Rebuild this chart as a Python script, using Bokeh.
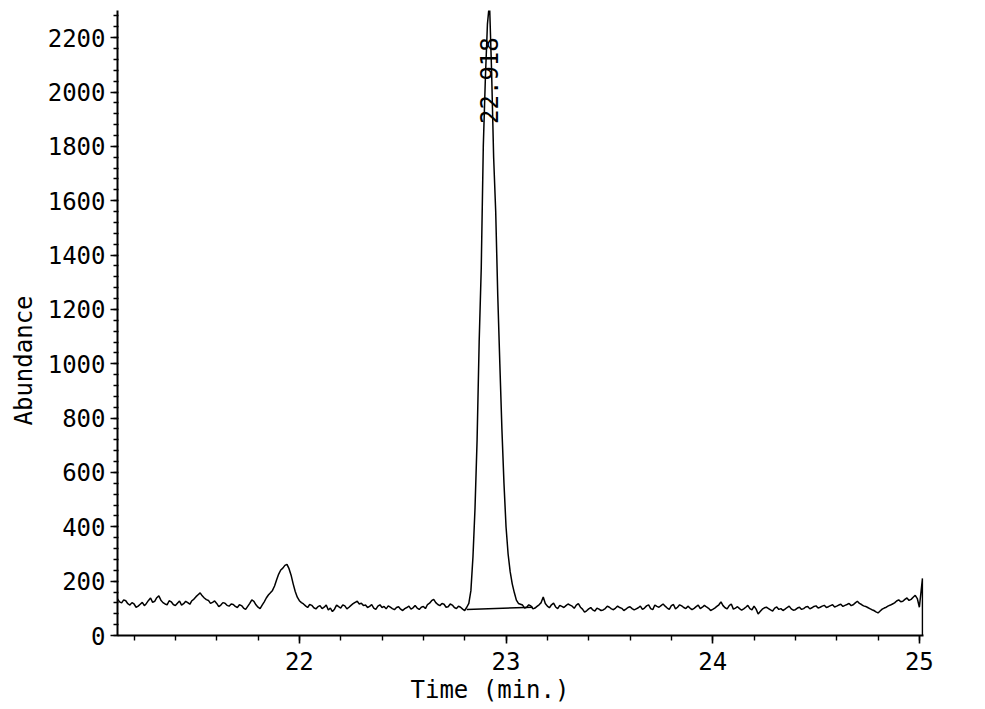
import math
from bokeh.plotting import figure
from bokeh.models import Range1d, FixedTicker, ColumnDataSource, Title
from bokeh.core.properties import value
from bokeh.embed import file_html
from bokeh.resources import INLINE

# ---------------- data ----------------
trace_time = [
    21.12, 21.13, 21.14, 21.15, 21.16, 21.17, 21.18, 21.19, 21.20, 21.21,
    21.22, 21.23, 21.24, 21.25, 21.26, 21.27, 21.28, 21.29, 21.30, 21.31,
    21.32, 21.33, 21.34, 21.35, 21.36, 21.37, 21.38, 21.39, 21.40, 21.41,
    21.42, 21.43, 21.44, 21.45, 21.46, 21.47, 21.48, 21.49, 21.50, 21.51,
    21.52, 21.53, 21.54, 21.55, 21.56, 21.57, 21.58, 21.59, 21.60, 21.61,
    21.62, 21.63, 21.64, 21.65, 21.66, 21.67, 21.68, 21.69, 21.70, 21.71,
    21.72, 21.73, 21.74, 21.75, 21.76, 21.77, 21.78, 21.79, 21.80, 21.81,
    21.82, 21.83, 21.84, 21.85, 21.86, 21.87, 21.88, 21.89, 21.90, 21.91,
    21.92, 21.93, 21.94, 21.95, 21.96, 21.97, 21.98, 21.99, 22.00, 22.01,
    22.02, 22.03, 22.04, 22.05, 22.06, 22.07, 22.08, 22.09, 22.10, 22.11,
    22.12, 22.13, 22.14, 22.15, 22.16, 22.17, 22.18, 22.19, 22.20, 22.21,
    22.22, 22.23, 22.24, 22.25, 22.26, 22.27, 22.28, 22.29, 22.30, 22.31,
    22.32, 22.33, 22.34, 22.35, 22.36, 22.37, 22.38, 22.39, 22.40, 22.41,
    22.42, 22.43, 22.44, 22.45, 22.46, 22.47, 22.48, 22.49, 22.50, 22.51,
    22.52, 22.53, 22.54, 22.55, 22.56, 22.57, 22.58, 22.59, 22.60, 22.61,
    22.62, 22.63, 22.64, 22.65, 22.66, 22.67, 22.68, 22.69, 22.70, 22.71,
    22.72, 22.73, 22.74, 22.75, 22.76, 22.77, 22.78, 22.79, 22.80,
    22.81, 22.82, 22.83, 22.84, 22.85, 22.86, 22.87, 22.88, 22.89, 22.90,
    22.91, 22.92, 22.93, 22.94, 22.95, 22.96, 22.97, 22.98, 22.99, 23.00,
    23.01, 23.02, 23.03, 23.04, 23.05, 23.06,
    23.07, 23.08, 23.09, 23.10, 23.11, 23.12, 23.13, 23.14, 23.15, 23.16,
    23.17, 23.18, 23.19, 23.20, 23.21, 23.22, 23.23, 23.24, 23.25, 23.26,
    23.27, 23.28, 23.29, 23.30, 23.31, 23.32, 23.33, 23.34, 23.35, 23.36,
    23.37, 23.38, 23.39, 23.40, 23.41, 23.42, 23.43, 23.44, 23.45, 23.46,
    23.47, 23.48, 23.49, 23.50, 23.51, 23.52, 23.53, 23.54, 23.55, 23.56,
    23.57, 23.58, 23.59, 23.60, 23.61, 23.62, 23.63, 23.64, 23.65, 23.66,
    23.67, 23.68, 23.69, 23.70, 23.71, 23.72, 23.73, 23.74, 23.75, 23.76,
    23.77, 23.78, 23.79, 23.80, 23.81, 23.82, 23.83, 23.84, 23.85, 23.86,
    23.87, 23.88, 23.89, 23.90, 23.91, 23.92, 23.93, 23.94, 23.95, 23.96,
    23.97, 23.98, 23.99, 24.00, 24.01, 24.02, 24.03, 24.04, 24.05, 24.06,
    24.07, 24.08, 24.09, 24.10, 24.11, 24.12, 24.13, 24.14, 24.15, 24.16,
    24.17, 24.18, 24.19, 24.20, 24.21, 24.22, 24.23, 24.24, 24.25, 24.26,
    24.27, 24.28, 24.29, 24.30, 24.31, 24.32, 24.33, 24.34, 24.35, 24.36,
    24.37, 24.38, 24.39, 24.40, 24.41, 24.42, 24.43, 24.44, 24.45, 24.46,
    24.47, 24.48, 24.49, 24.50, 24.51, 24.52, 24.53, 24.54, 24.55, 24.56,
    24.57, 24.58, 24.59, 24.60, 24.61, 24.62, 24.63, 24.64, 24.65, 24.66,
    24.67, 24.68, 24.69, 24.70, 24.71, 24.72, 24.73, 24.74, 24.75, 24.76,
    24.77, 24.78, 24.79, 24.80, 24.81, 24.82, 24.83, 24.84, 24.85, 24.86,
    24.87, 24.88, 24.89, 24.90, 24.91, 24.92, 24.93, 24.94, 24.95, 24.96,
    24.97, 24.98, 24.99, 25.00,
    25.015, 25.015,
]

trace_abundance = [
    135, 124, 120, 131, 128, 117, 112, 121, 116, 104,
    108, 115, 122, 110, 118, 129, 138, 122, 126, 139,
    146, 130, 121, 116, 113, 128, 124, 114, 110, 119,
    127, 112, 117, 126, 121, 115, 128, 134, 143, 150,
    157, 146, 138, 132, 129, 118, 122, 127, 118, 106,
    112, 121, 119, 111, 108, 116, 114, 107, 103, 113,
    110, 101, 96, 107, 118, 131, 126, 113, 104, 99,
    112, 124, 138, 149, 157, 166, 182, 205, 226, 241,
    248, 258, 262, 246, 222, 190, 162, 141, 128, 121,
    116, 109, 103, 114, 111, 102, 98, 106, 110, 99,
    104, 112, 94, 101, 88, 97, 112, 106, 101, 113,
    109, 98, 104, 111, 117, 122, 126, 116, 119, 110,
    112, 103, 107, 114, 101, 96, 108, 113, 103, 107,
    98, 109, 104, 99, 95, 103, 106, 97, 92, 99,
    103, 108, 97, 102, 110, 101, 96, 104, 107, 99,
    114, 119, 128, 133, 121, 114, 110, 118, 115, 104,
    106, 116, 112, 103, 99, 108, 104, 97, 92,
    104, 118, 165, 290, 470, 720, 1080, 1350, 1800, 2050,
    2250, 2330, 2080, 1760, 1560, 1250, 1000, 760, 560, 400,
    300, 235, 190, 158, 130, 118,
    115, 112, 101, 104, 113, 109, 98, 101, 107, 113,
    121, 142, 118, 108, 102, 113, 119, 105, 99, 111,
    107, 103, 110, 116, 112, 108, 100, 112, 117, 104,
    97, 86, 91, 98, 103, 94, 90, 101, 97, 92,
    94, 99, 108, 104, 98, 95, 101, 108, 103, 100,
    92, 97, 103, 106, 99, 94, 98, 102, 108, 96,
    101, 109, 113, 99, 95, 112, 107, 104, 110, 116,
    108, 101, 96, 110, 114, 98, 104, 113, 109, 103,
    99, 108, 101, 95, 100, 106, 112, 99, 104, 111,
    105, 100, 92, 96, 101, 107, 113, 124, 110, 102,
    98, 110, 116, 97, 101, 106, 99, 93, 98, 104,
    111, 99, 94, 108, 97, 79, 88, 97, 102, 104,
    99, 94, 90, 101, 105, 96, 99, 92, 97, 103,
    108, 98, 93, 95, 101, 104, 96, 99, 105, 107,
    98, 102, 107, 109, 101, 104, 108, 111, 103, 106,
    110, 113, 105, 108, 112, 115, 107, 111, 114, 118,
    110, 113, 120, 126, 118, 114, 109, 107, 103, 99,
    95, 92, 87, 83, 90, 97, 101, 104, 109, 112,
    116, 120, 127, 131, 124, 126, 133, 138, 129, 133,
    141, 148, 136, 104,
    210, 0,
]

# integration baseline drawn under the main peak
peak_baseline_time = [22.81, 23.13]
peak_baseline_abundance = [96, 104]

# peak annotation
peak_time = [22.918]
peak_label_level = [2042]
peak_label = ["22.918"]

x_major_ticks = [22, 23, 24, 25]
y_major_ticks = [0, 200, 400, 600, 800, 1000, 1200, 1400, 1600, 1800, 2000, 2200]
x_title = "Time (min.)"
y_title = "Abundance"

FONT = "DejaVu Sans Mono"
FSIZE = "24px"

# ---------------- figure ----------------
p = figure(width=985, height=709, output_backend="svg", toolbar_location=None,
           x_range=Range1d(21.12, 25.02), y_range=Range1d(0, 2300),
           min_border_left=117, min_border_right=62,
           min_border_top=10, min_border_bottom=74)
p.outline_line_color = None
p.xgrid.visible = False
p.ygrid.visible = False
p.background_fill_color = "white"
p.border_fill_color = "white"

p.line(x=trace_time, y=trace_abundance, line_color="black", line_width=1.5)
p.line(x=peak_baseline_time, y=peak_baseline_abundance, line_color="black", line_width=1.5)

src = ColumnDataSource(dict(x=peak_time, y=peak_label_level, t=peak_label))
p.text(x="x", y="y", text="t", source=src, angle=math.pi / 2,
       text_align="center", text_baseline="middle",
       text_font=value(FONT), text_font_size=FSIZE, text_color="black")

# axes
xax = p.xaxis[0]
xax.ticker = FixedTicker(ticks=x_major_ticks,
                         minor_ticks=[21.2 + 0.2 * i for i in range(20)])
yax = p.yaxis[0]
yax.ticker = FixedTicker(ticks=y_major_ticks,
                         minor_ticks=[40 * i for i in range(58)])

for ax in (xax, yax):
    ax.axis_line_color = "black"
    ax.axis_line_width = 2
    ax.major_tick_line_color = "black"
    ax.major_tick_line_width = 1.6
    ax.minor_tick_line_color = "black"
    ax.minor_tick_line_width = 1.4
    ax.major_label_text_font = FONT
    ax.major_label_text_font_size = FSIZE
    ax.major_label_text_color = "black"

xax.major_tick_out = 8
xax.major_tick_in = 0
xax.minor_tick_out = 5
xax.minor_tick_in = 0
xax.major_label_standoff = 8

yax.major_tick_out = 7
yax.major_tick_in = 0
yax.minor_tick_out = 4
yax.minor_tick_in = 1
yax.major_label_standoff = 5

p.add_layout(Title(text=x_title, align="left", offset=293, standoff=2,
                   text_font=FONT, text_font_size=FSIZE,
                   text_font_style="normal", text_color="black"), "below")
p.add_layout(Title(text=y_title, align="left", offset=210, standoff=14,
                   text_font=FONT, text_font_size=FSIZE,
                   text_font_style="normal", text_color="black"), "left")

open("out.html", "w").write(file_html(p, INLINE))
